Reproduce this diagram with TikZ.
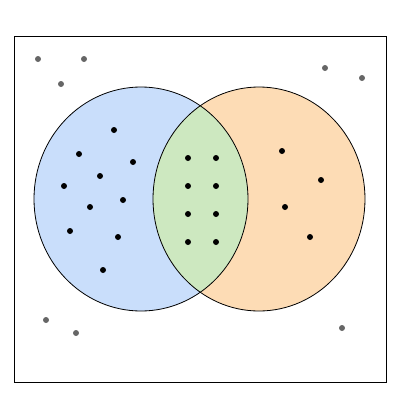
\documentclass[tikz,border=0pt]{standalone}
\begin{document}
\begin{tikzpicture}[x=1pt,y=-1pt,
  dot/.style={circle,fill=black,inner sep=0pt,minimum size=6pt},
  gdot/.style={circle,fill=black!60,inner sep=0pt,minimum size=6pt}]
\definecolor{cblue}{HTML}{C9DEFB}
\definecolor{corange}{HTML}{FDDCB5}
\definecolor{cgreen}{HTML}{CDE8C0}
\useasboundingbox (0,0) rectangle (400,400);
\draw[line width=0.8pt] (14,36) rectangle (386,382);
\fill[cblue] (141,199) ellipse (107 and 112);
\fill[corange] (259,199) ellipse (106 and 112);
\begin{scope}
\clip (141,199) ellipse (107 and 112);
\fill[cgreen] (259,199) ellipse (106 and 112);
\end{scope}
\draw[line width=0.8pt] (141,199) ellipse (107 and 112);
\draw[line width=0.8pt] (259,199) ellipse (106 and 112);
\foreach \p [count=\i] in {(114,130),(79,154),(133,162),(100,176),(64,186),(123,200),(90,207),(70,231),(118,237),(103,270),(282,151),(321,180),(285,207),(310,237)}
  \node[dot] (a\i) at \p {};
\foreach \x in {188,216} \foreach \y in {158,186,214,242}
  \node[dot] (m\x\y) at (\x,\y) {};
\foreach \p [count=\i] in {(38,59),(84,59),(61,84),(325,68),(362,78),(46,320),(76,333),(342,328)}
  \node[gdot] (g\i) at \p {};
\end{tikzpicture}
\end{document}
